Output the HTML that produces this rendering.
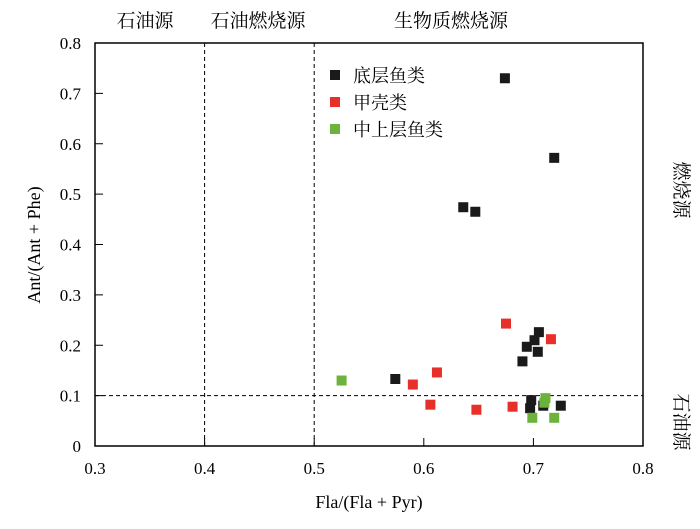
<!DOCTYPE html>
<html><head><meta charset="utf-8"><style>
html,body{margin:0;padding:0;background:#fff;}
svg text{font-family:"Liberation Serif","Noto Serif CJK SC","Noto Sans CJK SC",serif;fill:#000;}
</style></head><body>
<svg id="chart" width="700" height="524" xmlns="http://www.w3.org/2000/svg">
<g id="axes"></g><g id="marks"></g>
</svg>
<script>
const xTicks=[0.3,0.4,0.5,0.6,0.7,0.8];
const yTicks=[0,0.1,0.2,0.3,0.4,0.5,0.6,0.7,0.8];
const yTickLabels=["0","0.1","0.2","0.3","0.4","0.5","0.6","0.7","0.8"];
const demersalX=[0.674,0.719,0.636,0.647,0.574,0.705,0.701,0.694,0.704,0.690,0.698,0.697,0.709,0.725];
const demersalY=[0.730,0.572,0.474,0.465,0.133,0.226,0.210,0.197,0.187,0.168,0.091,0.075,0.080,0.080];
const crustX=[0.675,0.716,0.612,0.590,0.606,0.648,0.681];
const crustY=[0.243,0.212,0.146,0.122,0.082,0.072,0.078];
const pelagicX=[0.525,0.711,0.710,0.699,0.719];
const pelagicY=[0.130,0.095,0.086,0.056,0.056];
const seriesNames=["底层鱼类","甲壳类","中上层鱼类"];
const seriesColors=["#1a1a1a","#e8302a","#6cb33e"];
const L=95,R=643,T=43,B=446;
const xs=v=>L+(v-0.3)/0.5*(R-L);
const ys=v=>B-v/0.8*(B-T);
const NS="http://www.w3.org/2000/svg";
function mk(tag,attrs,parent,txt){const e=document.createElementNS(NS,tag);for(const k in attrs)e.setAttribute(k,attrs[k]);if(txt!==undefined)e.textContent=txt;parent.appendChild(e);return e;}
const ax=document.getElementById('axes'),mg=document.getElementById('marks');
let e;
e=mk('rect',{x:L,y:T,width:R-L,height:B-T,fill:'none',stroke:'#000','stroke-width':1.5},ax);


xTicks.forEach(v=>{
 e=mk('line',{x1:xs(v),x2:xs(v),y1:B,y2:B-8,stroke:'#000','stroke-width':1},ax);
 
 
 e=mk('text',{x:xs(v),y:B+28,'font-size':17,'text-anchor':'middle'},ax,v.toFixed(1));
 
 
});
yTicks.forEach((v,i)=>{
 e=mk('line',{x1:L,x2:L+8,y1:ys(v),y2:ys(v),stroke:'#000','stroke-width':1},ax);
 
 
 e=mk('text',{x:L-14,y:ys(v)+6,'font-size':17,'text-anchor':'end'},ax,yTickLabels[i]);
 
 
});
[0.4,0.5].forEach(v=>{
 e=mk('line',{x1:xs(v),x2:xs(v),y1:T,y2:B,stroke:'#000','stroke-width':1,'stroke-dasharray':'4,3'},ax);
 
 
});
e=mk('line',{x1:L,x2:R,y1:ys(0.1),y2:ys(0.1),stroke:'#000','stroke-width':1,'stroke-dasharray':'4,3'},ax);


e=mk('text',{x:369,y:508,'font-size':18,'text-anchor':'middle'},ax,'Fla/(Fla + Pyr)');


e=mk('text',{x:0,y:0,'font-size':18,'text-anchor':'middle',transform:'translate(40,245) rotate(-90)'},ax,'Ant/(Ant + Phe)');


[[145,'石油源'],[258,'石油燃烧源'],[451,'生物质燃烧源']].forEach(a=>{
 e=mk('text',{x:a[0],y:27,'font-size':19,'text-anchor':'middle'},ax,a[1]);
 
 
});
e=mk('text',{x:0,y:0,'font-size':19,'text-anchor':'middle',transform:'translate(675,190) rotate(90)'},ax,'燃烧源');


e=mk('text',{x:0,y:0,'font-size':19,'text-anchor':'middle',transform:'translate(675,422) rotate(90)'},ax,'石油源');


const sets=[[demersalX,demersalY],[crustX,crustY],[pelagicX,pelagicY]];
sets.forEach((s,si)=>{
 s[0].forEach((xv,i)=>{
  e=mk('rect',{x:xs(xv)-5,y:ys(s[1][i])-5,width:10,height:10,fill:seriesColors[si]},mg);
  
  
 });
 e=mk('rect',{x:330,y:70+si*27,width:10,height:10,fill:seriesColors[si]},mg);
 
 
 e=mk('text',{x:353,y:82+si*27,'font-size':18},mg,seriesNames[si]);
 
 
});
</script>
</body></html>
